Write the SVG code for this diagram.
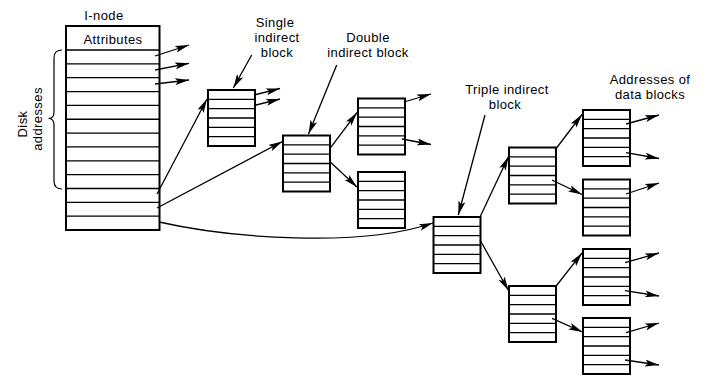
<svg xmlns="http://www.w3.org/2000/svg" xmlns:xlink="http://www.w3.org/1999/xlink" width="706" height="378" viewBox="0 0 706 378">
<style>
text{font-family:"Liberation Sans",Arial,sans-serif;font-size:13px;letter-spacing:0.4px;fill:#000}
.box{fill:#fff;stroke:#000;stroke-width:2}
.row{stroke:#000;stroke-width:1.3}
.c{fill:none;stroke:#000;stroke-width:1.3;marker-end:url(#ah)}
</style>
<defs>
<marker id="ah" viewBox="0 0 14 7" refX="14" refY="3.5" markerWidth="14" markerHeight="7" orient="auto" markerUnits="userSpaceOnUse">
<path d="M0,0 L14,3.5 L0,7 L3,3.5 z" fill="#000"/>
</marker>
<g id="blk">
<rect class="box" x="0" y="0" width="47" height="56"/>
<path class="row" d="M0,9.33H47M0,18.67H47M0,28H47M0,37.33H47M0,46.67H47"/>
</g>
</defs>
<rect width="706" height="378" fill="#fff"/>

<g id="inode">
<text x="104" y="19.5" text-anchor="middle">I-node</text>
<rect class="box" x="66" y="26" width="93.5" height="204"/>
<path class="row" d="M66,50H159.5M66,63.85H159.5M66,77.7H159.5M66,91.55H159.5M66,105.4H159.5M66,119.25H159.5M66,133.1H159.5M66,146.95H159.5M66,160.8H159.5M66,174.65H159.5M66,188.5H159.5M66,202.35H159.5M66,216.2H159.5"/>
<text x="113" y="43.5" text-anchor="middle">Attributes</text>
<path d="M62,50 Q54,50 54,58 L54,112 Q54,118.5 48.5,118.5 Q54,118.5 54,125 L54,181 Q54,189 62,189" fill="none" stroke="#000" stroke-width="1.2"/>
<text transform="translate(27,124) rotate(-90)" text-anchor="middle">Disk</text>
<text transform="translate(42,119) rotate(-90)" text-anchor="middle">addresses</text>
</g>

<g id="single">
<use xlink:href="#blk" x="208" y="90"/>
<text x="275" y="27" text-anchor="middle">Single</text>
<text x="277" y="42" text-anchor="middle">indirect</text>
<text x="277" y="57" text-anchor="middle">block</text>
</g>
<g id="double">
<use xlink:href="#blk" x="283" y="135.5"/>
<text x="368" y="42" text-anchor="middle">Double</text>
<text x="368" y="57" text-anchor="middle">indirect block</text>
</g>
<g id="doubleA"><use xlink:href="#blk" x="358" y="98.5"/></g>
<g id="doubleB"><use xlink:href="#blk" x="358" y="172"/></g>
<g id="triple">
<use xlink:href="#blk" x="433.5" y="217"/>
<text x="507" y="93.5" text-anchor="middle">Triple indirect</text>
<text x="505" y="108.5" text-anchor="middle">block</text>
</g>
<g id="midA"><use xlink:href="#blk" x="509" y="147.5"/></g>
<g id="midB"><use xlink:href="#blk" x="509" y="286"/></g>
<g id="data1">
<use xlink:href="#blk" x="583" y="110"/>
<text x="650" y="84" text-anchor="middle">Addresses of</text>
<text x="650" y="99" text-anchor="middle">data blocks</text>
</g>
<g id="data2"><use xlink:href="#blk" x="583" y="179.5"/></g>
<g id="data3"><use xlink:href="#blk" x="583" y="249"/></g>
<g id="data4"><use xlink:href="#blk" x="583" y="318"/></g>

<g id="connectors">
<path class="c" d="M155,56 L189,45"/>
<path class="c" d="M155,70 L189,63.3"/>
<path class="c" d="M155,84 L189,80"/>
<path class="c" d="M157,194 L207,99"/>
<path class="c" d="M157,208 L282.5,141.5"/>
<path class="c" d="M159,222 C230,238 360,248 433,223"/>
<path class="c" d="M251.7,55 L233.3,88"/>
<path class="c" d="M336.7,65 L308.5,134"/>
<path class="c" d="M485,115 L458.3,215"/>
<path class="c" d="M254,95 L280,88.5"/>
<path class="c" d="M254,105.5 L280,99"/>
<path class="c" d="M330,148.3 L357,112.5"/>
<path class="c" d="M330,161.7 L357,187"/>
<path class="c" d="M404,102 L431,94"/>
<path class="c" d="M402,139 L431,144.5"/>
<path class="c" d="M480,217 L508.5,156.5"/>
<path class="c" d="M480,240 L508.5,290.5"/>
<path class="c" d="M555,150 L582,114.5"/>
<path class="c" d="M552,180 L582,194.5"/>
<path class="c" d="M555,287.5 L582,253"/>
<path class="c" d="M552,318.3 L582.5,332"/>
<path class="c" d="M626,124 L659,115"/>
<path class="c" d="M626,152.7 L659,158.5"/>
<path class="c" d="M626,194 L659,183"/>
<path class="c" d="M625,262.7 L659,253"/>
<path class="c" d="M625,290.7 L659,296"/>
<path class="c" d="M626,332.7 L659,323"/>
<path class="c" d="M625,360 L659,365"/>
</g>
</svg>
